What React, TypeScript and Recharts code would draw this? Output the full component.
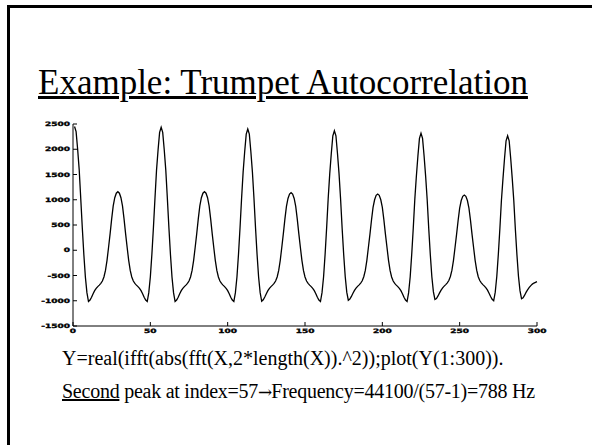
import React from 'react'
import { LineChart, Line, XAxis, YAxis } from 'recharts'

// Y(1:300), one value per lag index
const autocorr = [
  // 1..56
  2450, 2350, 2000, 1600, 1030, 450, -80, -530, -840, -1015,
  -985, -930, -860, -800, -755, -720, -690, -655, -610, -530,
  -400, -200, 60, 330, 620, 880, 1040, 1130, 1160, 1130,
  1040, 880, 620, 330, 60, -200, -400, -530, -610, -655,
  -690, -720, -755, -800, -860, -930, -985, -1015, -840, -530,
  -80, 450, 1030, 1585, 1985, 2335,
  // 57..112
  2435, 2335, 1985, 1585, 1030, 450, -80, -530, -840, -1015,
  -985, -930, -860, -800, -755, -720, -690, -655, -610, -530,
  -400, -200, 60, 330, 620, 880, 1040, 1130, 1160, 1130,
  1040, 880, 620, 330, 60, -200, -400, -530, -610, -655,
  -690, -720, -755, -800, -860, -930, -985, -1015, -840, -530,
  -80, 450, 1030, 1550, 1950, 2300,
  // 113..168
  2400, 2300, 1950, 1550, 1030, 450, -80, -530, -840, -1010,
  -980, -925, -860, -800, -755, -720, -690, -655, -610, -530,
  -400, -200, 60, 330, 615, 870, 1025, 1112, 1140, 1112,
  1025, 870, 615, 330, 60, -200, -400, -530, -610, -655,
  -690, -720, -755, -800, -860, -930, -985, -1015, -840, -530,
  -80, 450, 1030, 1517, 1917, 2267,
  // 169..224
  2367, 2267, 1917, 1517, 1020, 440, -80, -520, -830, -990,
  -965, -915, -850, -795, -750, -715, -685, -650, -605, -525,
  -400, -200, 60, 320, 600, 850, 1000, 1088, 1114, 1088,
  1000, 850, 600, 320, 60, -200, -400, -530, -610, -655,
  -690, -720, -755, -800, -860, -930, -985, -1015, -840, -530,
  -80, 440, 1010, 1466, 1866, 2216,
  // 225..280
  2316, 2216, 1866, 1466, 1000, 430, -80, -520, -820, -975,
  -955, -905, -845, -790, -745, -710, -680, -645, -600, -520,
  -395, -200, 55, 315, 590, 835, 985, 1068, 1094, 1068,
  985, 835, 590, 315, 55, -200, -395, -525, -600, -645,
  -680, -710, -745, -790, -850, -915, -970, -1000, -830, -520,
  -80, 430, 990, 1418, 1818, 2168,
  // 281..300
  2268, 2168, 1818, 1418, 980, 420, -80, -510, -800, -960,
  -940, -890, -830, -780, -735, -700, -670, -650, -635, -620,
]

const xTicks = [0, 50, 100, 150, 200, 250, 300]
const yTicks = [-1500, -1000, -500, 0, 500, 1000, 1500, 2000, 2500]

const data = autocorr.map((v, i) => ({ idx: i + 1, y: v }))

const serif = "'Liberation Serif', 'Times New Roman', serif"
const tickFont = "'DejaVu Sans', sans-serif"

const BottomTick = (props: any) => {
  const { x, y, payload } = props
  return (
    <g>
      <line x1={x} x2={x} y1={y} y2={y - 4} stroke='#000' strokeWidth={1} />
      <text transform={`translate(${x},${y + 7}) scale(1.5,1)`} textAnchor='middle' fontFamily={tickFont} fontWeight='bold' fontSize={6} fill='#000' stroke='#000' strokeWidth={0.35}>
        {payload.value}
      </text>
    </g>
  )
}

const LeftTick = (props: any) => {
  const { x, y, payload } = props
  return (
    <g>
      <line x1={x} x2={x + 4} y1={y} y2={y} stroke='#000' strokeWidth={1} />
      <text transform={`translate(${x - 3},${y + 2}) scale(1.5,1)`} textAnchor='end' fontFamily={tickFont} fontWeight='bold' fontSize={6} fill='#000' stroke='#000' strokeWidth={0.35}>
        {payload.value}
      </text>
    </g>
  )
}

export default function App() {
  return (
    <div style={{ position: 'absolute', left: 0, top: 0, width: 592, height: 445, overflow: 'hidden', background: '#fff' }}>
      {/* slide frame */}
      <div style={{ position: 'absolute', left: 7, top: 5, width: 620, height: 480, borderLeft: '3px solid #000', borderTop: '3px solid #000' }} />

      <div style={{ position: 'absolute', left: 38, top: 66, fontFamily: serif, fontSize: 35, lineHeight: '34px', textDecoration: 'underline', whiteSpace: 'nowrap', color: '#000' }}>
        Example: Trumpet Autocorrelation
      </div>

      <div style={{ position: 'absolute', left: 0, top: 0 }}>
        <LineChart width={592} height={445} data={data} margin={{ top: 124, right: 55, bottom: 99, left: 33 }}>
          <XAxis xAxisId='b' dataKey='idx' type='number' domain={[0, 300]} ticks={xTicks} height={20} tickSize={0} tickMargin={0} tickLine={false} axisLine={{ stroke: '#000' }} tick={<BottomTick />} interval={0} />
          <XAxis xAxisId='t' dataKey='idx' type='number' domain={[0, 300]} ticks={xTicks} orientation='top' height={0} mirror tickSize={4} tick={false} tickLine={{ stroke: '#000' }} axisLine={{ stroke: '#000' }} interval={0} />
          <YAxis yAxisId='l' type='number' domain={[-1500, 2500]} ticks={yTicks} width={40} tickSize={0} tickMargin={0} tickLine={false} axisLine={{ stroke: '#000' }} tick={<LeftTick />} interval={0} />
          <YAxis yAxisId='r' type='number' domain={[-1500, 2500]} ticks={yTicks} orientation='right' width={0} mirror tickSize={4} tick={false} tickLine={{ stroke: '#000' }} axisLine={{ stroke: '#000' }} interval={0} />
          <Line xAxisId='b' yAxisId='l' type='linear' dataKey='y' stroke='#000' strokeWidth={1.3} dot={false} isAnimationActive={false} />
        </LineChart>
      </div>

      <div style={{ position: 'absolute', left: 62, top: 348, fontFamily: serif, fontSize: 20, lineHeight: '20px', whiteSpace: 'nowrap', color: '#000' }}>
        Y=real(ifft(abs(fft(X,2*length(X)).^2));plot(Y(1:300)).
      </div>
      <div style={{ position: 'absolute', left: 62, top: 381, fontFamily: serif, fontSize: 20, lineHeight: '20px', whiteSpace: 'nowrap', color: '#000', letterSpacing: -0.25 }}>
        <span style={{ textDecoration: 'underline' }}>Second</span> peak at index=57<span style={{ fontFamily: "'DejaVu Serif', serif", fontSize: 17, letterSpacing: -1 }}>→</span>Frequency=44100/(57-1)=788 Hz
      </div>
    </div>
  )
}
